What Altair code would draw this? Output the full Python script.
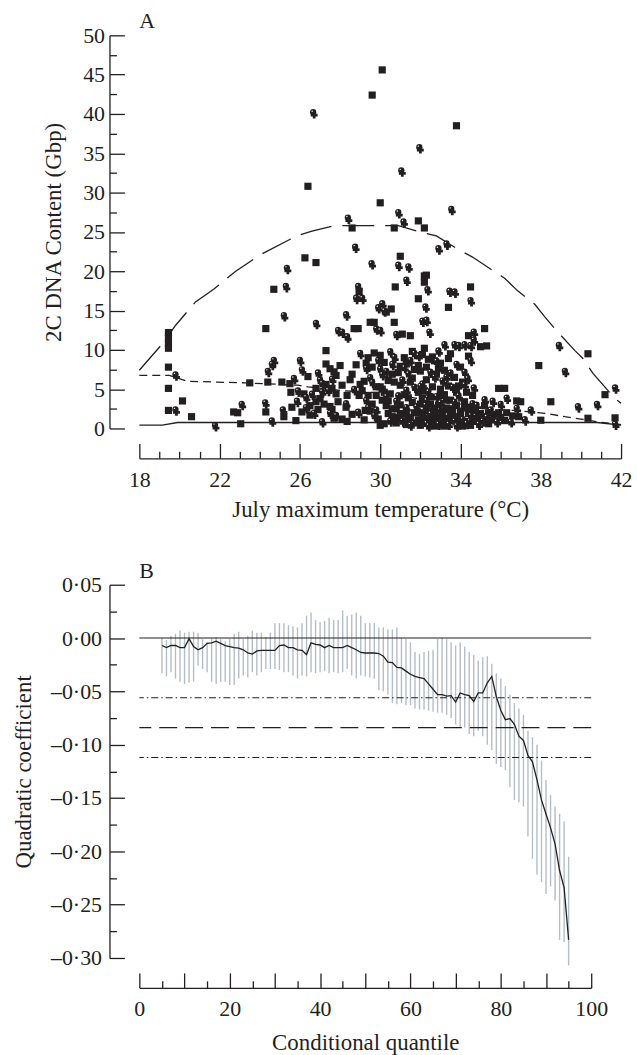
import altair as alt
import pandas as pd

FONT = "Liberation Serif"
INK = "#231f20"
BAR = "#b5bdc8"

# ---------------- Panel A : scatter (July max temperature vs 2C DNA) ----------------
sq_x = [30.1, 29.6, 33.8, 26.4, 30.0, 28.6, 30.7, 31.9, 32.2, 26.25, 26.8, 31.0, 32.2, 32.2,
        24.7, 28.95, 30.75, 34.5, 31.9, 33.4, 30.3, 30.55, 29.5, 29.7, 30.7, 24.3, 28.9, 31.1,
        31.5, 35.2, 34.4, 32.3, 28.7,
        19.45, 19.45, 19.45, 19.45, 19.45, 19.45, 19.45, 20.15, 20.6, 22.7, 22.9, 23.05, 23.5,
        24.3, 24.4, 25.1, 25.2, 25.5, 25.55, 26.2, 26.5, 26.8, 27.3, 27.3, 27.5, 27.7, 27.8,
        27.6, 27.8, 27.7, 28.35, 28.3, 28.35, 28.8, 28.95, 29.25,
        35.3, 35.0, 36.2, 35.9, 36.8, 37.0, 37.9, 38.0, 38.5, 40.35, 40.35, 41.2, 41.7,
        28.0, 28.6, 29.1, 29.4, 29.6, 29.8, 29.2, 29.6, 30.0, 30.2, 30.4, 30.1, 30.7, 30.9,
        30.0, 30.6, 31.0, 31.2, 31.4, 31.6, 31.8, 31.2, 31.0, 31.6, 32.0, 32.1, 32.2, 32.4,
        32.5, 32.6, 32.7, 32.8, 32.9, 32.0, 32.6, 32.2, 33.0, 33.2, 33.3, 33.5, 33.6, 33.8,
        33.9, 33.4, 33.1, 34.0, 34.2, 34.4, 34.6, 34.8, 34.3, 34.1, 35.0, 35.2, 35.4, 35.6,
        35.9, 36.2, 36.9, 26.5, 26.9, 27.2, 27.6, 27.9, 26.4, 29.5, 30.3, 31.3, 32.3, 33.3,
        34.7,
        29.9, 30.2, 30.6, 30.8, 31.0, 31.3, 31.5, 31.7, 31.9, 32.0, 32.1, 32.3, 32.4, 32.6,
        32.7, 32.8, 33.0, 33.1, 33.2, 33.4, 33.5, 33.6, 33.7, 33.9, 34.0, 34.2, 34.4, 34.5,
        34.7, 34.9, 32.5, 32.9, 33.3, 32.0, 31.4, 30.8, 30.4, 29.8, 33.8, 34.2, 35.1, 35.4,
        35.7, 36.0, 36.3, 36.6, 30.6, 31.7, 32.3, 33.0, 32.7, 31.2, 29.2, 30.0,
        29.3, 29.7, 30.2, 30.4, 30.9, 31.3, 31.6, 31.9, 32.1, 32.3, 32.6, 32.8, 33.0, 33.2,
        33.5, 33.7, 34.0, 34.1, 34.4, 29.0, 29.4, 30.1, 30.5, 31.0, 31.5, 31.9, 32.2, 33.0,
        33.4, 33.9, 34.6, 26.8, 27.0, 27.3, 27.5, 28.1, 28.5, 28.6, 28.1, 26.1, 25.8, 25.6]
sq_y = [45.6, 42.4, 38.5, 30.8, 28.7, 25.5, 25.5, 26.4, 25.5, 21.7, 21.1, 21.9, 19.4, 18.6,
        17.7, 17.4, 18.0, 18.0, 16.5, 15.4, 14.8, 15.2, 13.5, 13.5, 13.5, 12.7, 12.7, 12.0,
        11.8, 12.7, 11.8, 19.5, 12.7,
        12.2, 11.5, 10.8, 10.2, 7.8, 5.1, 2.3, 3.5, 1.5, 2.1, 2.0, 0.6, 5.8,
        2.1, 5.9, 5.9, 1.5, 5.7, 4.6, 4.4, 1.7, 3.4, 9.9, 8.2, 7.6, 7.2, 6.75,
        5.1, 4.4, 1.3, 4.2, 2.7, 0.9, 8.1, 4.2, 2.3,
        10.5, 10.4, 5.1, 5.1, 3.5, 3.4, 8.0, 1.05, 3.4, 9.5, 1.3, 4.3, 1.35,
        8.0, 6.9, 4.8, 9.0, 3.1, 5.3, 1.1, 7.8, 9.3, 4.6, 1.9, 3.6, 5.9, 1.4,
        0.4, 2.5, 7.9, 4.3, 1.0, 3.3, 0.7, 1.8, 3.0, 9.8, 7.3, 3.9, 1.3, 8.8,
        3.1, 0.9, 2.6, 1.2, 7.6, 2.0, 5.3, 10.2, 1.8, 4.3, 1.1, 3.6, 1.9, 2.9,
        1.4, 8.9, 2.2, 2.2, 3.4, 2.7, 0.9, 1.3, 4.6, 0.3, 1.9, 2.9, 0.6, 1.1,
        2.0, 1.0, 1.5, 2.9, 2.4, 3.1, 2.4, 3.4, 6.6, 2.2, 2.9, 2.2, 2.4, 2.6,
        2.3,
        1.2, 0.6, 1.5, 0.7, 1.9, 0.5, 1.4, 2.0, 1.1, 0.4, 1.6, 1.0, 2.2, 1.5,
        0.3, 2.0, 0.8, 1.4, 0.3, 1.8, 1.0, 2.5, 1.5, 0.6, 1.6, 0.9, 1.9, 0.4,
        1.1, 1.8, 4.0, 3.0, 3.6, 3.1, 3.9, 2.5, 3.5, 4.2, 4.6, 2.6, 1.5, 2.0,
        1.8, 1.4, 2.0, 1.6, 6.9, 7.5, 6.2, 5.0, 8.6, 9.0, 6.0, 5.3,
        8.3, 9.6, 8.4, 6.1, 7.1, 8.2, 6.4, 8.0, 9.4, 7.8, 9.1, 6.9, 8.3, 7.4,
        9.5, 6.5, 7.8, 5.9, 9.2, 5.6, 4.2, 5.0, 4.4, 5.5, 5.9, 4.6, 4.8, 4.2,
        5.4, 5.4, 4.2, 5.1, 3.8, 5.6, 2.8, 5.5, 6.2, 1.8, 1.2, 2.1, 1.0, 2.7]

cp_x = [26.66, 31.95, 31.05, 30.9, 33.54, 28.39, 31.16, 32.9, 33.3, 28.75, 25.35, 29.57, 30.9,
        31.4, 31.3, 25.3, 28.9, 32.35, 33.7, 34.5, 28.8, 29.1, 32.25, 25.2, 28.3, 30.1, 32.3,
        32.45, 26.8, 28.1, 28.35, 30.0, 34.66, 34.66, 19.8, 19.8, 21.77, 23.1, 24.27, 24.4,
        24.6, 24.7, 24.6, 25.15, 25.7, 26.0, 26.1, 25.85, 26.3, 27.1, 27.1, 27.1, 27.5, 33.9,
        34.5, 34.5, 34.35, 34.66, 34.2, 36.3, 37.2, 37.5, 38.9, 39.2, 39.85, 40.8, 41.7, 41.7,
        33.45, 29.9, 30.2, 29.8, 27.9, 30.8, 32.1, 33.7, 34.2,
        28.3, 28.9, 29.3, 29.5, 29.7, 29.4, 29.9, 29.8, 30.1, 30.3, 30.5, 30.6, 30.8, 30.5,
        30.9, 31.1, 31.3, 31.5, 31.7, 31.9, 31.5, 31.8, 31.4, 31.1, 32.1, 32.25, 32.3, 32.4,
        32.5, 32.7, 32.8, 32.9, 32.3, 32.9, 33.0, 32.4, 33.1, 33.35, 33.4, 33.6, 33.7, 33.9,
        33.2, 33.5, 33.8, 33.7, 34.1, 34.3, 34.5, 34.6, 34.9, 34.8, 35.1, 35.3, 35.5, 35.8,
        35.2, 36.5, 26.3, 26.7, 27.0, 27.4, 27.8, 26.6,
        29.0, 29.6, 30.0, 30.7, 31.2, 31.7, 32.0, 32.5, 32.8, 33.3, 33.8, 34.2, 31.3, 30.3,
        29.3, 28.7, 27.6, 26.9, 25.9, 36.0, 35.6, 36.8]
cp_y = [40.1, 35.65, 32.7, 27.4, 27.8, 26.7, 26.2, 22.8, 23.4, 23.0, 20.3, 20.9, 20.7,
        20.5, 18.8, 18.0, 18.0, 17.6, 17.3, 16.2, 16.5, 16.5, 15.4, 14.3, 14.4, 15.8, 13.7,
        12.2, 13.3, 12.2, 11.6, 12.4, 12.2, 11.2, 6.75, 2.3, 0.3, 3.0, 3.2, 7.2,
        8.1, 8.6, 0.9, 2.3, 6.3, 8.6, 7.4, 3.4, 2.6, 4.6, 5.7, 0.8, 1.9, 10.5,
        10.5, 8.6, 6.3, 5.1, 5.5, 3.8, 1.05, 2.3, 10.5, 7.2, 2.7, 3.0, 5.1, 0.5,
        17.4, 15.3, 14.9, 12.6, 12.4, 11.9, 13.6, 10.6, 10.6,
        3.1, 2.0, 7.6, 6.4, 1.6, 2.6, 8.6, 2.3, 6.8, 7.2, 0.9, 8.1, 3.4, 9.7,
        4.1, 6.1, 2.6, 8.6, 5.2, 9.2, 0.4, 2.7, 6.9, 0.9, 5.6, 2.9, 0.6, 4.6,
        1.8, 6.5, 4.0, 9.8, 3.5, 0.5, 3.2, 0.3, 6.0, 1.6, 0.5, 5.2, 0.9, 4.1,
        10.6, 7.0, 0.3, 3.3, 1.1, 0.6, 1.6, 3.1, 0.5, 2.9, 0.9, 1.4, 2.3, 0.8,
        3.6, 0.8, 3.9, 1.9, 6.1, 4.8, 1.6, 4.3,
        9.5, 5.8, 7.5, 9.0, 7.7, 9.5, 5.3, 7.1, 8.5, 6.5, 8.1, 7.1, 4.8, 4.0,
        3.5, 4.9, 6.2, 7.0, 4.7, 3.0, 3.4, 2.5]

# quantile regression curves
upper_x = [18, 19.24, 19.8, 20.8, 21.7, 22.8, 24.1, 25.85, 26.6, 27.75, 29.3, 30.9, 32.1, 32.8,
           33.8, 34.6, 36.2, 36.85, 37.7, 38.2, 38.8, 39.7, 40.1, 40.6, 41.7, 42]
upper_y = [7.4, 11.05, 13.1, 16.1, 17.7, 20.0, 22.2, 24.5, 25.1, 25.8, 25.8, 25.8, 24.9, 24.5,
           22.9, 21.8, 19.1, 17.5, 15.8, 14.2, 12.4, 9.9, 8.9, 7.0, 3.8, 3.2]
mid_x = [18, 19.5, 20.4, 23.3, 25.9, 26.4, 28.2, 29.5, 30.2, 30.9, 32.2, 32.8, 34.9, 35.5,
         36.2, 36.7, 38.3, 39.2, 40.0, 40.8, 42]
mid_y = [6.75, 6.75, 6.0, 5.8, 5.5, 5.3, 4.8, 4.6, 4.6, 4.2, 3.7, 3.7, 2.7, 2.5,
         2.3, 2.3, 1.9, 1.5, 1.2, 0.85, 0.5]
low_x = [18, 19.15, 19.9, 40.8, 42]
low_y = [0.42, 0.42, 0.76, 0.76, 0.42]

A_x_labels = [18, 22, 26, 30, 34, 38, 42]
A_x_minor = [19, 20, 21, 23, 24, 25, 27, 28, 29, 31, 32, 33, 35, 36, 37, 39, 40, 41]
A_y_major = [0, 5, 10, 15, 20, 25, 30, 35, 40, 45, 50]
A_y_minor = [2.5, 7.5, 12.5, 17.5, 22.5, 27.5, 32.5, 37.5, 42.5, 47.5]

# ---------------- Panel B : quadratic coefficient by quantile ----------------
quant = list(range(5, 96))
coef = [-0.007, -0.009, -0.007, -0.007, -0.009, -0.009, -0.0005, -0.008, -0.011, -0.009,
        -0.005, -0.0045, -0.003, -0.005, -0.007, -0.008, -0.009, -0.0095, -0.011, -0.014,
        -0.015, -0.012, -0.0115, -0.0115, -0.0115, -0.0115, -0.007, -0.0065, -0.009, -0.009,
        -0.011, -0.0115, -0.0155, -0.0045, -0.006, -0.0065, -0.009, -0.007, -0.009, -0.009,
        -0.009, -0.007, -0.009, -0.011, -0.0135, -0.014, -0.014, -0.014, -0.0145, -0.017,
        -0.0225, -0.023, -0.0275, -0.028, -0.031, -0.034, -0.036, -0.037, -0.038, -0.043,
        -0.048, -0.053, -0.053, -0.0545, -0.054, -0.060, -0.0515, -0.053, -0.054, -0.0595,
        -0.0515, -0.0515, -0.042, -0.036, -0.055, -0.068, -0.0765, -0.0755, -0.081, -0.092,
        -0.096, -0.110, -0.116, -0.133, -0.152, -0.165, -0.178, -0.193, -0.218, -0.234,
        -0.283]
ci_hi = [0.000, -0.002, 0.002, 0.004, 0.007, 0.005, 0.006, 0.006, 0.005, -0.001,
         -0.004, 0.000, 0.001, -0.001, -0.003, -0.001, 0.004, 0.006, -0.001, 0.002,
         0.007, 0.005, 0.005, 0.001, 0.005, 0.014, 0.014, 0.014, 0.012, 0.011,
         0.010, 0.014, 0.021, 0.024, 0.017, 0.015, 0.016, 0.019, 0.017, 0.017,
         0.026, 0.021, 0.022, 0.024, 0.021, 0.014, 0.014, 0.014, 0.010, 0.010,
         0.008, 0.008, 0.010, 0.000, -0.001, -0.004, -0.013, -0.015, -0.013, -0.012,
         -0.011, -0.001, 0.000, -0.001, -0.004, -0.007, -0.004, -0.008, -0.013, -0.016,
         -0.021, -0.018, -0.017, -0.024, -0.033, -0.038, -0.045, -0.053, -0.061, -0.066,
         -0.072, -0.087, -0.093, -0.100, -0.115, -0.133, -0.147, -0.158, -0.165, -0.172,
         -0.205]
ci_lo = [-0.033, -0.036, -0.032, -0.038, -0.041, -0.043, -0.042, -0.041, -0.026, -0.029,
         -0.032, -0.041, -0.043, -0.041, -0.041, -0.044, -0.044, -0.038, -0.035, -0.037,
         -0.032, -0.035, -0.032, -0.029, -0.029, -0.029, -0.030, -0.032, -0.032, -0.035,
         -0.038, -0.035, -0.036, -0.032, -0.033, -0.032, -0.031, -0.033, -0.032, -0.033,
         -0.032, -0.029, -0.035, -0.038, -0.035, -0.036, -0.037, -0.038, -0.049, -0.050,
         -0.053, -0.061, -0.062, -0.061, -0.063, -0.063, -0.066, -0.067, -0.067, -0.068,
         -0.069, -0.070, -0.070, -0.072, -0.075, -0.081, -0.084, -0.084, -0.090, -0.092,
         -0.087, -0.092, -0.100, -0.105, -0.118, -0.121, -0.124, -0.140, -0.152, -0.154,
         -0.158, -0.186, -0.207, -0.222, -0.229, -0.240, -0.233, -0.246, -0.283, -0.285,
         -0.307]
ref_solid = [0.0]
ref_dashdot = [-0.056, -0.112]
ref_dashed = [-0.084]

B_x_labels = [0, 20, 40, 60, 80, 100]
B_x_major = [0, 10, 20, 30, 40, 50, 60, 70, 80, 90, 100]
B_x_minor = [5, 15, 25, 35, 45, 55, 65, 75, 85, 95]
B_y_major = [-0.30, -0.25, -0.20, -0.15, -0.10, -0.05, 0.0, 0.05]
B_y_minor = [-0.275, -0.225, -0.175, -0.125, -0.075, -0.025, 0.025]

# ---------------- layout constants ----------------
WA, HA = 484, 395
WB, HB = 454, 375
OFF = 30
MAJ, MIN = 15, 7
LABEL_FS = 22
TITLE_FS = 23

# ---------------- Panel A ----------------
scA_x = alt.Scale(domain=[18, 42], nice=False, zero=False)
scA_y = alt.Scale(domain=[0, 50], nice=False, zero=False)

def XA(axis):
    return alt.X("t:Q", scale=scA_x, axis=axis)

def YA(axis):
    return alt.Y("g:Q", scale=scA_y, axis=axis)

carrierA = pd.DataFrame({"t": [30.0], "g": [25.0]})

axA_main = alt.Chart(carrierA).mark_point(opacity=0).encode(
    x=XA(alt.Axis(values=A_x_labels, ticks=False, tickSize=0, offset=OFF, labelPadding=11,
                  labelFlush=False, labelOverlap=False, title="July maximum temperature (°C)",
                  titlePadding=8)),
    y=YA(alt.Axis(values=A_y_major, ticks=False, tickSize=0, offset=OFF, labelPadding=5,
                  labelOverlap=False, title="2C DNA Content (Gbp)", titlePadding=17)),
)
axA_major = alt.Chart(carrierA).mark_point(opacity=0).encode(
    x=XA(alt.Axis(orient="top", offset=-(HA + OFF), values=A_x_labels, tickSize=MAJ,
                  labels=False, domain=False, title=None)),
    y=YA(alt.Axis(orient="right", offset=-(WA + OFF), values=A_y_major, tickSize=MAJ,
                  labels=False, domain=False, title=None)),
)
axA_minor = alt.Chart(carrierA).mark_point(opacity=0).encode(
    x=XA(alt.Axis(orient="top", offset=-(HA + OFF), values=A_x_minor, tickSize=MIN,
                  labels=False, domain=False, title=None)),
    y=YA(alt.Axis(orient="right", offset=-(WA + OFF), values=A_y_minor, tickSize=MIN,
                  labels=False, domain=False, title=None)),
)

def curve(xs, ys, dash):
    df = pd.DataFrame({"t": xs, "g": ys})
    kw = dict(color=INK, strokeWidth=1.3)
    if dash:
        kw["strokeDash"] = dash
    return alt.Chart(df).mark_line(**kw).encode(x=XA(None), y=YA(None))

low_line = curve(low_x, low_y, None)
mid_line = curve(mid_x, mid_y, [8, 5])
up_line = curve(upper_x, upper_y, [32, 11])

sq_df = pd.DataFrame({"t": sq_x, "g": sq_y})
cp_df = pd.DataFrame({"t": cp_x, "g": cp_y})

squares = alt.Chart(sq_df).mark_point(shape="square", filled=True, size=52, color=INK,
                                      opacity=1).encode(x=XA(None), y=YA(None))
cp_circ = alt.Chart(cp_df).mark_point(shape="circle", filled=True, size=40, color=INK,
                                      opacity=1, yOffset=-1).encode(x=XA(None), y=YA(None))
cp_cross = alt.Chart(cp_df).mark_point(shape="cross", filled=True, size=48, color=INK,
                                       opacity=1, xOffset=1, yOffset=2).encode(x=XA(None), y=YA(None))
cp_hole = alt.Chart(cp_df).mark_point(shape="circle", filled=True, size=2, color="white",
                                      opacity=1, xOffset=-1, yOffset=-2).encode(x=XA(None), y=YA(None))

panelA = alt.layer(
    axA_main, axA_major, axA_minor, low_line, mid_line, up_line,
    squares, cp_circ, cp_cross, cp_hole,
).resolve_axis(x="independent", y="independent").properties(
    width=WA, height=HA,
    title=alt.TitleParams(text="A", anchor="start", frame="group", fontSize=22, font=FONT,
                          fontWeight="normal", color=INK, offset=-9),
)

# ---------------- Panel B ----------------
scB_x = alt.Scale(domain=[0, 100], nice=False, zero=False)
scB_y = alt.Scale(domain=[-0.30, 0.05], nice=False, zero=False)
fmtB = ("replace(replace(replace(format(datum.value, '.2f'), '\u2212', '\u2013'), "
        "'-', '\u2013'), '.', '\u00b7')")

def XB(axis, field="q"):
    return alt.X(f"{field}:Q", scale=scB_x, axis=axis)

def YB(axis, field="v"):
    return alt.Y(f"{field}:Q", scale=scB_y, axis=axis)

carrierB = pd.DataFrame({"q": [50.0], "v": [-0.1]})
ciB = pd.DataFrame({"q": quant, "v": ci_lo, "hi": ci_hi})
lineB = pd.DataFrame({"q": quant, "v": coef})

bars = alt.Chart(ciB).mark_rule(color=BAR, strokeWidth=1.4).encode(
    x=XB(alt.Axis(values=B_x_labels, ticks=False, tickSize=0, offset=OFF, labelPadding=11,
                  labelFlush=False, labelOverlap=False, title="Conditional quantile",
                  titlePadding=12)),
    y=YB(alt.Axis(values=B_y_major, ticks=False, tickSize=0, offset=OFF, labelPadding=8,
                  labelOverlap=False, labelExpr=fmtB, title="Quadratic coefficient",
                  titlePadding=15)),
    y2="hi:Q",
)
axB_major = alt.Chart(carrierB).mark_point(opacity=0).encode(
    x=XB(alt.Axis(orient="top", offset=-(HB + OFF), values=B_x_major, tickSize=MAJ,
                  labels=False, domain=False, title=None)),
    y=YB(alt.Axis(orient="right", offset=-(WB + OFF), values=B_y_major, tickSize=MAJ,
                  labels=False, domain=False, title=None)),
)
axB_minor = alt.Chart(carrierB).mark_point(opacity=0).encode(
    x=XB(alt.Axis(orient="top", offset=-(HB + OFF), values=B_x_minor, tickSize=MIN,
                  labels=False, domain=False, title=None)),
    y=YB(alt.Axis(orient="right", offset=-(WB + OFF), values=B_y_minor, tickSize=MIN,
                  labels=False, domain=False, title=None)),
)

def hline(vals, dash):
    df = pd.DataFrame({"v": vals})
    kw = dict(color=INK, strokeWidth=1.1)
    if dash:
        kw["strokeDash"] = dash
    return alt.Chart(df).mark_rule(**kw).encode(y=YB(None))

ref0 = hline(ref_solid, None)
refdd = hline(ref_dashdot, [7, 3, 1.5, 3])
refd = hline(ref_dashed, [18, 8])

coef_line = alt.Chart(lineB).mark_line(color=INK, strokeWidth=1.3).encode(
    x=XB(None), y=YB(None))

panelB = alt.layer(
    bars, axB_major, axB_minor, ref0, refdd, refd, coef_line,
).resolve_axis(x="independent", y="independent").properties(
    width=WB, height=HB,
    title=alt.TitleParams(text="B", anchor="start", frame="group", fontSize=22, font=FONT,
                          fontWeight="normal", color=INK, offset=-9),
)

chart = alt.vconcat(panelA, panelB, spacing=39).properties(
    padding={"left": 12, "top": 8, "right": 5, "bottom": 0},
    background="white",
).configure_view(stroke=None).configure_axis(
    grid=False, labelFont=FONT, titleFont=FONT, labelFontSize=LABEL_FS, titleFontSize=TITLE_FS,
    titleFontWeight="normal", labelColor=INK, titleColor=INK, domainColor=INK,
    tickColor=INK, domainWidth=1.3, tickWidth=1.3,
)

chart.save("out.html", embed_options={"renderer": "svg", "actions": False})
